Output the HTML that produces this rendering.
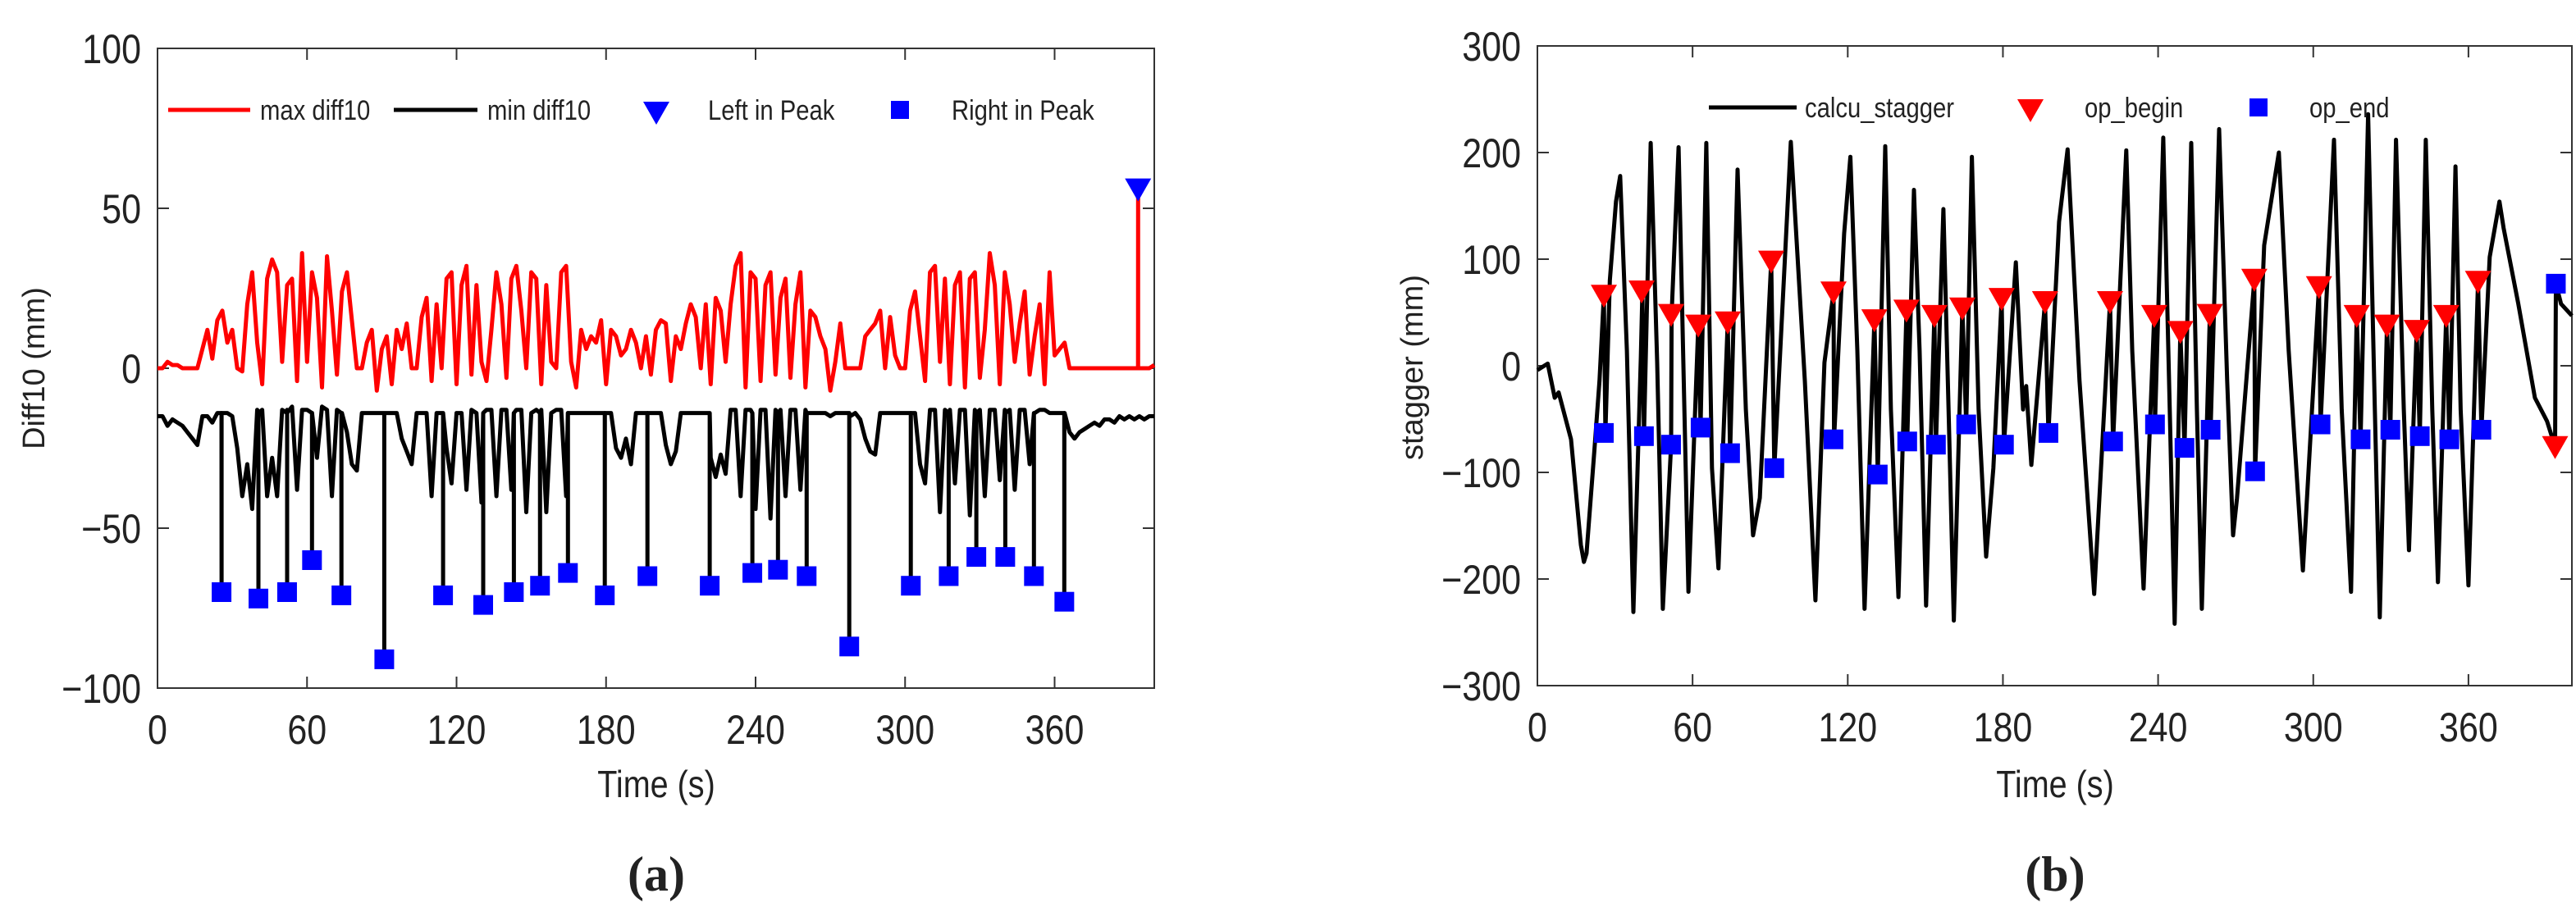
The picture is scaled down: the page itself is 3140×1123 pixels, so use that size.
<!DOCTYPE html>
<html><head><meta charset="utf-8"><style>
html,body{margin:0;padding:0;background:#fff;}
svg{display:block;}
text{font-family:"Liberation Sans",sans-serif;fill:#222;}
</style></head><body>
<svg id="fig" width="3140" height="1123" viewBox="0 0 3140 1123" xmlns="http://www.w3.org/2000/svg">
<g id="pa"></g>
<g id="pb"></g>
</svg>
<script>
// ---------- Panel (a) data ----------
const aStep = 2; // seconds between samples
const maxDiff10 = [
0,0,2,1,1,0,0,0, 0,6,12,3,15,18,8,12, 0,-1,20,30,8,-5,28,34, 30,2,26,28,-4,36,2,30,
22,-6,35,18,-2,24,30,15, 0,0,8,12,-7,6,10,-5, 12,6,14,0,0,16,22,-4, 20,0,28,30,-5,26,32,-2,
26,2,-4,12,30,20,-3,28, 32,18,0,30,28,-5,26,2, 0,30,32,2,-6,12,6,10, 8,15,-5,12,10,4,6,12,
8,0,10,-2,12,15,14,-4, 10,6,14,20,16,0,20,-5, 22,18,2,20,32,36,-6,30, 28,-4,26,30,-2,22,28,-3,
20,30,-6,18,16,10,6,-7, 2,14,0,0,0,0,10,12, 14,18,0,16,4,0,0,18, 24,10,-4,30,32,2,28,-5,
26,30,-6,28,30,-3,12,36, 26,-5,30,20,2,14,24,-2, 10,20,-5,30,4,6,8,0, 0,0,0,0,0,0,0,0,
0,0,0,0,0,0,0,0, 1];
const minDiff10 = [
-15,-15,-18,-16,-17,-18,-20,-22, -24,-15,-15,-17,-14,-14,-14,-15, -25,-40,-30,-44,-13,-13,-40,-28,
-40,-13,-13,-12,-38,-13,-13,-40, -28,-12,-13,-40,-13,-14,-20,-30, -32,-14,-14,-14,-14,-14,-14,-14,
-14,-22,-26,-30,-14,-14,-14,-40, -14,-14,-25,-36,-14,-14,-38,-13, -14,-42,-13,-13,-40,-13,-13,-38,
-13,-13,-45,-14,-13,-13,-45,-14, -13,-13,-40,-14,-14,-14,-14,-14, -14,-14,-14,-14,-25,-28,-22,-30,
-14,-14,-14,-14,-14,-14,-24,-30, -26,-14,-14,-14,-14,-14,-14,-28, -34,-27,-33,-13,-13,-40,-13,-13,
-44,-13,-13,-47,-13,-13,-40,-13, -13,-38,-13,-14,-14,-14,-14,-15, -14,-14,-14,-15,-14,-16,-22,-26,
-27,-14,-14,-14,-14,-14,-14,-14, -14,-30,-36,-13,-13,-45,-13,-13, -36,-13,-13,-46,-13,-13,-40,-13,
-13,-35,-13,-13,-38,-13,-13,-30, -14,-13,-13,-14,-14,-14,-14,-20, -22,-20,-19,-18,-17,-18,-16,-16,
-17,-15,-16,-15,-16,-15,-16,-15, -15];
const rightPeakT = [25.7,40.5,52,62,73.8,91,114.6,130.7,143,153.5,164.7,179.5,196.6,221.6,238.7,249,260.5,277.6,302.3,317.5,328.6,340.2,351.7,363.9];
const rightPeakV = [-70,-72,-70,-60,-71,-91,-71,-74,-70,-68,-64,-71,-65,-68,-64,-63,-65,-87,-68,-65,-59,-59,-65,-73];
const leftPeakT = [393.5];
const leftPeakV = [56];
const aXTicks = [0,60,120,180,240,300,360];
const aYTicks = [100,50,0,-50,-100];

// ---------- Panel (b) data ----------
const staggerT = [0,4,6.7,8.2,13,16.8,18,19,22,24,25.7,26.3,28,30.4,32,34.6,37.1,40,40.6,41.2,43.8,46.3,48.5,51.7,51.9,54.6,58.4,62.2,63.1,65.3,67.5,70,73.6,74.5,77.4,80.6,83.4,86,90.4,91.6,98,103.4,107.5,111,114.5,114.7,118.6,121,123.7,126.5,130.3,131.6,134.5,136.7,139.6,142.7,143,145.6,147.8,150.3,153.5,154.1,157,159,161,164.3,165.8,168,170.6,173.5,176.3,179.5,180.4,185,187.8,189,191,196.3,197.6,201.7,205,209.6,215.3,221.4,222.6,227.7,230,234.4,238.5,238.8,242,244.5,246.4,248.6,250.2,252.8,255,256.9,260,260.3,263.6,266.7,269,270.5,277.2,277.5,281,286.7,290.5,296,302.2,302.8,308,311,314.6,316.8,318.3,321.2,323.8,325.7,328.5,329.8,332,335,337,340,341.2,343.5,346,348.2,351.4,352.6,355,357,360,363.7,365,368.2,372,373.6,379.3,385.7,390.4,393.5,393.8,395.8,400];
const staggerV = [-4,2,-30,-25,-69,-168,-184,-176,-80,-14,66,-63,80,154,178,14,-231,8,70,-66,209,3,-228,-74,48,205,-212,38,-58,209,-96,-190,41,-82,184,-41,-159,-124,98,-96,210,-14,-220,3,69,-69,124,196,14,-228,43,-102,206,-41,-217,52,-71,165,14,-225,47,-74,147,-41,-239,54,-55,196,-41,-179,-96,63,-74,97,-41,-19,-93,60,-63,135,203,-14,-214,60,-71,202,14,-209,47,-55,214,-41,-242,32,-77,209,-41,-228,48,-60,222,-14,-159,-124,81,-99,113,200,14,-192,74,-55,212,-41,-212,47,-69,236,-41,-236,38,-60,212,-41,-173,33,-66,212,-41,-203,47,-69,187,-41,-206,79,-60,102,154,129,58,-30,-52,-76,77,58,47];
const opBeginT = [25.7,40.3,51.7,62.2,73.6,90.4,114.5,130.3,142.7,153.5,164.3,179.5,196.3,221.4,238.5,248.6,260,277.2,302.2,316.8,328.5,340,351.4,363.7,393.5];
const opBeginV = [66,70,48,38,41,98,69,43,52,47,54,63,60,60,47,32,48,81,74,47,38,33,47,79,-76];
const opEndT = [25.7,41.2,51.7,63.1,74.5,91.6,114.5,131.6,143,154.1,165.8,180.4,197.6,222.6,238.8,250.2,260.3,277.5,302.8,318.3,329.8,341.2,352.6,365,393.8];
const opEndV = [-63,-66,-74,-58,-82,-96,-69,-102,-71,-74,-55,-74,-63,-71,-55,-77,-60,-99,-55,-69,-60,-66,-69,-60,77];
const bXTicks = [0,60,120,180,240,300,360];
const bYTicks = [300,200,100,0,-100,-200,-300];

const NS = "http://www.w3.org/2000/svg";
function mk(parent, tag, attrs, txt){
  const e = document.createElementNS(NS, tag);
  for (const k in attrs) e.setAttribute(k, attrs[k]);
  if (txt !== undefined) e.textContent = txt;
  parent.appendChild(e);
  return e;
}
function tri(cx, cy){ return (cx-16)+","+(cy-13)+" "+(cx+16)+","+(cy-13)+" "+cx+","+(cy+15); }

function drawAxes(g, L, R, T, B, xs, ys, xTicks, yTicks, xlabX, ylab, ylabX, ylabY, letter){
  const frame = mk(g,'rect',{x:L,y:T,width:R-L,height:B-T,fill:'none',stroke:'#333','stroke-width':2});
  
  
  xTicks.forEach(v=>{
    const x = xs(v);
    const t1 = mk(g,'path',{d:`M${x},${B}V${B-14}M${x},${T}V${T+14}`,stroke:'#333','stroke-width':2});
    
    
    const lb = mk(g,'text',{transform:`translate(${x},${B+68}) scale(0.86,1)`,'font-size':50,'text-anchor':'middle'}, String(v));
    
    
  });
  yTicks.forEach(v=>{
    const y = ys(v);
    const t1 = mk(g,'path',{d:`M${L},${y}H${L+14}M${R},${y}H${R-14}`,stroke:'#333','stroke-width':2});
    
    
    const lb = mk(g,'text',{transform:`translate(${L-20},${y+18}) scale(0.86,1)`,'font-size':50,'text-anchor':'end'}, String(v).replace('-','\u2212'));
    
    
  });
  const xl = mk(g,'text',{transform:`translate(${xlabX},${972}) scale(0.86,1)`,'font-size':46,'text-anchor':'middle'},'Time (s)');
  
  
  const yl = mk(g,'text',{transform:`translate(${ylabX},${ylabY}) rotate(-90)`,'font-size':38,'text-anchor':'middle'},ylab);
  
  
  const cap = mk(g,'text',{x:xlabX,y:1086,'font-size':60,'font-weight':'bold','text-anchor':'middle','style':'font-family:"Liberation Serif",serif;font-weight:bold'},letter);
  
  
}

// ---------- Panel (a) ----------
(function(){
  const g = document.getElementById('pa');
  const L=192,R=1407,T=59,B=839;
  const xs = t => L + t/400*(R-L);
  const ys = v => 449 - v*3.9;
  drawAxes(g,L,R,T,B,xs,ys,aXTicks,aYTicks,800,'Diff10 (mm)',54,449,'(a)');
  let rp = maxDiff10.map((v,i)=>[i*aStep, v]);
  leftPeakT.forEach((t,i)=>{ rp.push([t-0.01,0],[t,leftPeakV[i]-1],[t+0.01,0]); });
  rp.sort((a,b)=>a[0]-b[0]);
  const red = mk(g,'polyline',{points:rp.map(p=>xs(p[0]).toFixed(1)+','+ys(p[1]).toFixed(1)).join(' '),fill:'none',stroke:'#ff0000','stroke-width':5,'stroke-linejoin':'round'});
  
  
  let bp = minDiff10.map((v,i)=>[i*aStep, v]);
  rightPeakT.forEach((t,i)=>{ bp.push([t-0.01,-14],[t,rightPeakV[i]],[t+0.01,-14]); });
  bp.sort((a,b)=>a[0]-b[0]);
  const blk = mk(g,'polyline',{points:bp.map(p=>xs(p[0]).toFixed(1)+','+ys(p[1]).toFixed(1)).join(' '),fill:'none',stroke:'#000','stroke-width':5,'stroke-linejoin':'round'});
  
  
  rightPeakT.forEach((t,i)=>{
    const s = mk(g,'rect',{x:xs(t)-12,y:ys(rightPeakV[i])-12,width:24,height:24,fill:'#0000ff'});
    
    
  });
  leftPeakT.forEach((t,i)=>{
    const p = mk(g,'polygon',{points:tri(xs(t),ys(leftPeakV[i])),fill:'#0000ff'});
    
    
  });
  const lg = mk(g,'g',{});
  
  
  mk(lg,'line',{x1:205,y1:134,x2:305,y2:134,stroke:'#ff0000','stroke-width':5});
  mk(lg,'text',{transform:'translate(317,146) scale(0.86,1)','font-size':34},'max diff10');
  mk(lg,'line',{x1:480,y1:134,x2:582,y2:134,stroke:'#000','stroke-width':5});
  mk(lg,'text',{transform:'translate(594,146) scale(0.86,1)','font-size':34},'min diff10');
  mk(lg,'polygon',{points:tri(800,137),fill:'#0000ff'});
  mk(lg,'text',{transform:'translate(863,146) scale(0.86,1)','font-size':34},'Left in Peak');
  mk(lg,'rect',{x:1086,y:123,width:22,height:22,fill:'#0000ff'});
  mk(lg,'text',{transform:'translate(1160,146) scale(0.86,1)','font-size':34},'Right in Peak');
})();

// ---------- Panel (b) ----------
(function(){
  const g = document.getElementById('pb');
  const L=1874,R=3135,T=56,B=836;
  const xs = t => L + t/400*(R-L);
  const ys = v => 446 - v*1.3;
  drawAxes(g,L,R,T,B,xs,ys,bXTicks,bYTicks,2505,'stagger (mm)',1734,448,'(b)');
  const pts = staggerT.map((t,i)=>xs(t).toFixed(1)+','+ys(staggerV[i]).toFixed(1)).join(' ');
  const ln = mk(g,'polyline',{points:pts,fill:'none',stroke:'#000','stroke-width':5,'stroke-linejoin':'round'});
  
  
  opEndT.forEach((t,i)=>{
    const s = mk(g,'rect',{x:xs(t)-12,y:ys(opEndV[i])-12,width:24,height:24,fill:'#0000ff'});
    
    
  });
  opBeginT.forEach((t,i)=>{
    const p = mk(g,'polygon',{points:tri(xs(t),ys(opBeginV[i])),fill:'#ff0000'});
    
    
  });
  const lg = mk(g,'g',{});
  
  
  mk(lg,'line',{x1:2083,y1:131,x2:2190,y2:131,stroke:'#000','stroke-width':5});
  mk(lg,'text',{transform:'translate(2200,143) scale(0.86,1)','font-size':34},'calcu_stagger');
  mk(lg,'polygon',{points:tri(2475,134),fill:'#ff0000'});
  mk(lg,'text',{transform:'translate(2541,143) scale(0.86,1)','font-size':34},'op_begin');
  mk(lg,'rect',{x:2742,y:120,width:22,height:22,fill:'#0000ff'});
  mk(lg,'text',{transform:'translate(2815,143) scale(0.86,1)','font-size':34},'op_end');
})();
</script>
</body></html>
